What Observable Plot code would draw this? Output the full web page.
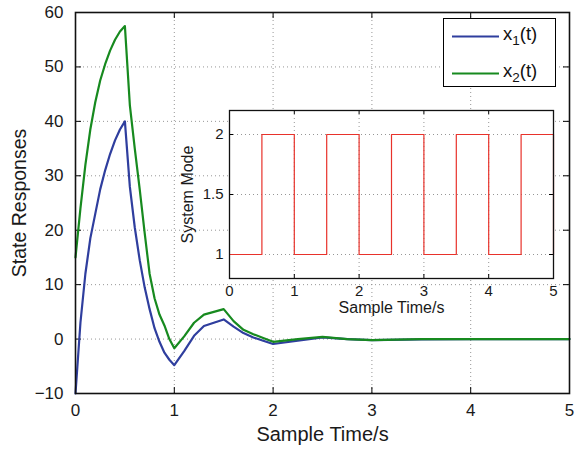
<!DOCTYPE html>
<html>
<head>
<meta charset="utf-8">
<script src="https://cdn.jsdelivr.net/npm/d3@7"></script>
<script src="https://cdn.jsdelivr.net/npm/@observablehq/plot@0.6"></script>
<style>
  html, body { margin: 0; padding: 0; background: white; }
  #wrap { position: relative; width: 576px; height: 453px; font-family: "Liberation Sans", Arial, sans-serif; }
  #wrap svg { display: block; }
  #inset { position: absolute; left: 170px; top: 100px; }
  #legend { position: absolute; left: 443px; top: 18px; width: 113px; height: 69px; background: white; border: 1px solid #000; box-sizing: border-box; }
  .lg-row { position: absolute; left: 0; height: 22px; width: 110px; }
  .lg-row svg { position: absolute; left: 8px; top: 9px; }
  .lg-row span { position: absolute; left: 59px; top: -3px; font-size: 18.5px; color: #111; white-space: nowrap; }
  .lg-row sub { font-size: 13.5px; vertical-align: -5px; line-height: 0; }
</style>
</head>
<body>
<div id="wrap">
  <div id="main"></div>
  <div id="inset"></div>
  <div id="legend"></div>
</div>
<script>
// ---- data ----
const sampleTime = [0,0.05,0.1,0.15,0.2,0.25,0.3,0.35,0.4,0.45,0.5,0.55,0.6,0.65,0.7,0.75,0.8,0.85,0.9,0.95,1.0,1.1,1.2,1.3,1.4,1.5,1.6,1.7,1.8,1.9,2.0,2.25,2.5,2.75,3.0,3.5,4.0,4.5,5.0];
const x1Values = [-10,3,12,18.5,23,27.5,31,34,36.5,38.5,40,28,20.5,14.5,9.5,5.5,2,-0.5,-2.5,-3.8,-4.8,-2.2,0.6,2.4,3.0,3.6,2.3,1.1,0.3,-0.3,-0.9,-0.3,0.3,0,-0.2,-0.05,0,0,0];
const x2Values = [15,24,32,38.5,43.5,47.5,50.5,53,55,56.5,57.5,43,35,27.5,19.5,12,7.5,4.5,2.5,0,-1.7,0.5,3.0,4.5,5.0,5.5,3.3,1.7,0.9,0.2,-0.5,0,0.4,0,-0.2,0,0,0,0];
const modeTime = [0,0.5,1,1.5,2,2.5,3,3.5,4,4.5,5];
const modeValues = [1,2,1,2,1,2,1,2,1,2,1];
const mainXTicks = [0,1,2,3,4,5];
const mainYTicks = [-10,0,10,20,30,40,50,60];
const insetXTicks = [0,1,2,3,4,5];
const insetYTicks = [1,1.5,2];
const seriesNames = ["x1(t)", "x2(t)"];
const seriesColors = ["#2f3e9e", "#178a1f"];
const modeColor = "#e8322b";

const stateData = sampleTime.map((t, i) => ({t, x1: x1Values[i], x2: x2Values[i]}));
const modeData = modeTime.map((t, i) => ({t, mode: modeValues[i]}));

const font = "Liberation Sans, Arial, Helvetica, sans-serif";
const gridStyle = {stroke: "#8a8a8a", strokeOpacity: 1, strokeWidth: 0.9, strokeDasharray: "1,3"};

// ---- main chart ----
const W = 576, H = 453, mL = 75, mR = 7, mT = 12, mB = 60;
const fw = W - mL - mR, fh = H - mT - mB;
const main = Plot.plot({
  width: W, height: H,
  marginLeft: mL, marginRight: mR, marginTop: mT, marginBottom: mB,
  style: {fontFamily: font, fontSize: "17px", background: "white", color: "#1a1a1a"},
  x: {domain: [0, 5], ticks: mainXTicks, tickSize: 0, tickPadding: 10, label: null, tickFormat: d => String(d)},
  y: {domain: [-10, 60], ticks: mainYTicks, tickSize: 0, tickPadding: 12, label: null},
  marks: [
    Plot.ruleX(mainXTicks.slice(1, -1), {x: d => d, ...gridStyle}),
    Plot.ruleY(mainYTicks.slice(1, -1), {y: d => d, ...gridStyle}),
    Plot.tickX(mainXTicks, {x: d => d, stroke: "#000", insetTop: fh - 6}),
    Plot.tickX(mainXTicks, {x: d => d, stroke: "#000", insetBottom: fh - 6}),
    Plot.tickY(mainYTicks, {y: d => d, stroke: "#000", insetRight: fw - 6}),
    Plot.tickY(mainYTicks, {y: d => d, stroke: "#000", insetLeft: fw - 6}),
    Plot.line(stateData, {x: "t", y: "x1", stroke: seriesColors[0], strokeWidth: 2.2}),
    Plot.line(stateData, {x: "t", y: "x2", stroke: seriesColors[1], strokeWidth: 2.2}),
    Plot.frame({stroke: "#111", strokeWidth: 1.6}),
    Plot.text(["Sample Time/s"], {text: d => d, frameAnchor: "bottom", textAnchor: "middle", dy: 47, fontSize: 20, fill: "#1a1a1a"}),
    Plot.text(["State Responses"], {text: d => d, frameAnchor: "left", textAnchor: "middle", dx: -56, rotate: -90, fontSize: 19.5, fill: "#1a1a1a"})
  ]
});
document.getElementById("main").appendChild(main);

// ---- inset chart ----
const iW = 400, iH = 230, imL = 59, imR = 17, imT = 10, imB = 52;
const ifw = iW - imL - imR, ifh = iH - imT - imB;
const inset = Plot.plot({
  width: iW, height: iH,
  marginLeft: imL, marginRight: imR, marginTop: imT, marginBottom: imB,
  style: {fontFamily: font, fontSize: "15px", background: "transparent", color: "#1a1a1a"},
  x: {domain: [0, 5], ticks: insetXTicks, tickSize: 0, tickPadding: 7, label: null, tickFormat: d => String(d)},
  y: {domain: [0.8, 2.2], ticks: insetYTicks, tickSize: 0, tickPadding: 6, label: null, tickFormat: d => String(d)},
  marks: [
    Plot.frame({fill: "white", stroke: "none"}),
    Plot.ruleX(insetXTicks.slice(1, -1), {x: d => d, ...gridStyle}),
    Plot.ruleY(insetYTicks, {y: d => d, ...gridStyle}),
    Plot.tickX(insetXTicks, {x: d => d, stroke: "#000", insetTop: ifh - 4}),
    Plot.tickX(insetXTicks, {x: d => d, stroke: "#000", insetBottom: ifh - 4}),
    Plot.tickY(insetYTicks, {y: d => d, stroke: "#000", insetRight: ifw - 4}),
    Plot.tickY(insetYTicks, {y: d => d, stroke: "#000", insetLeft: ifw - 4}),
    Plot.line(modeData, {x: "t", y: "mode", curve: "step-after", stroke: modeColor, strokeWidth: 1.2}),
    Plot.frame({stroke: "#111", strokeWidth: 1.3}),
    Plot.text(["Sample Time/s"], {text: d => d, frameAnchor: "bottom", textAnchor: "middle", dy: 34, fontSize: 16, fill: "#1a1a1a"}),
    Plot.text(["System Mode"], {text: d => d, frameAnchor: "left", textAnchor: "middle", dx: -42, rotate: -90, fontSize: 16, fill: "#1a1a1a"})
  ]
});
document.getElementById("inset").appendChild(inset);

// ---- legend ----
const legend = document.getElementById("legend");
seriesNames.forEach((name, i) => {
  const row = document.createElement("div");
  row.className = "lg-row";
  row.style.top = (i === 0 ? 7 : 44) + "px";
  const sub = name.match(/x(\d)\(t\)/)[1];
  row.innerHTML = `<svg width="48" height="3"><line x1="0" y1="1.5" x2="47" y2="1.5" stroke="${seriesColors[i]}" stroke-width="2.2"/></svg><span>x<sub>${sub}</sub>(t)</span>`;
  legend.appendChild(row);
});
</script>
</body>
</html>
